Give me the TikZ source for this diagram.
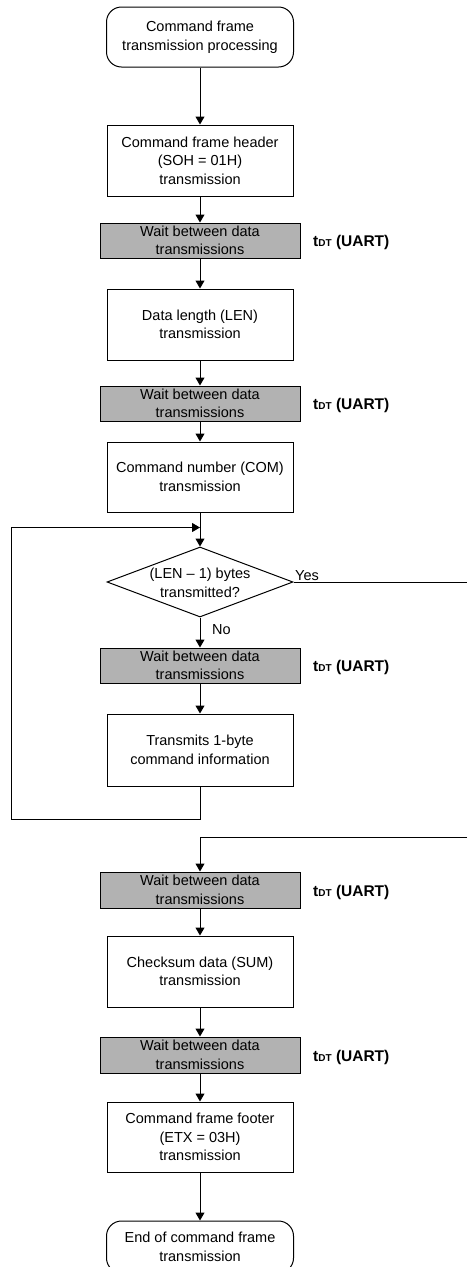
\documentclass[tikz,border=0pt]{standalone}
\usepackage{fontspec}
\setmainfont{Liberation Sans}
\usetikzlibrary{arrows.meta,shapes.geometric}
\definecolor{waitgray}{RGB}{178,178,178}
\tikzset{
  base/.style={draw, line width=1pt, inner sep=0pt, align=center,
    font=\fontsize{14.5}{18.5}\selectfont},
  proc/.style={base, minimum width=186pt, minimum height=71pt},
  term/.style={base, rounded corners=15pt, minimum width=187pt, minimum height=60pt},
  waitbox/.style={base, fill=waitgray, minimum width=200pt, minimum height=35pt},
  dec/.style={draw, line width=1pt, diamond, inner sep=0pt, minimum width=186pt, minimum height=70pt},
  txt/.style={inner sep=0pt, align=center, font=\fontsize{14.5}{18.5}\selectfont},
  tdt/.style={inner sep=0pt, anchor=west, font=\fontsize{15.5}{18.5}\selectfont\bfseries},
  conn/.style={line width=1pt, -{Triangle[width=9pt,length=8pt]}},
  line/.style={line width=1pt}
}
\newcommand{\tdtlabel}{t{\fontsize{10}{10}\selectfont DT} (UART)}
\begin{document}
\begin{tikzpicture}[x=1pt,y=-1pt]
\useasboundingbox (0,0) rectangle (467,1267);
\node[term] (start) at (200,37) {Command frame\\transmission processing};
\node[proc] (b1) at (200,160.5) {Command frame header\\(SOH = 01H)\\transmission};
\node[waitbox] (w1) at (200,240.5) {Wait between data\\transmissions};
\node[tdt] (t1) at (313,242) {\tdtlabel};
\node[proc] (b2) at (200,324.5) {Data length (LEN)\\transmission};
\node[waitbox] (w2) at (200,403.5) {Wait between data\\transmissions};
\node[tdt] (t2) at (313,405) {\tdtlabel};
\node[proc, minimum height=70pt] (b3) at (200,477) {Command number (COM)\\transmission};
\coordinate (merge) at (200,527.5);
\node[dec] (d) at (200,582) {};
\node[txt] (dtext) at (200,583) {(LEN -- 1) bytes\\transmitted?};
\node[txt, anchor=south west] (yes) at (295,581) {Yes};
\node[txt, anchor=west] (no) at (212,630) {No};
\node[waitbox] (w3) at (200,665.5) {Wait between data\\transmissions};
\node[tdt] (t3) at (313,667) {\tdtlabel};
\node[proc, minimum height=72pt] (b4) at (200,750) {Transmits 1-byte\\command information};
\coordinate (lb1) at (200,819);
\coordinate (lb2) at (11,819);
\coordinate (lb3) at (11,527.5);
\coordinate (y1) at (467,582);
\coordinate (y2) at (467,837);
\coordinate (y3) at (200,837);
\node[waitbox, minimum height=36pt] (w4) at (200,890) {Wait between data\\transmissions};
\node[tdt] (t4) at (313,892) {\tdtlabel};
\node[proc] (b5) at (200,971.5) {Checksum data (SUM)\\transmission};
\node[waitbox, minimum height=36pt] (w5) at (200,1055) {Wait between data\\transmissions};
\node[tdt] (t5) at (313,1057) {\tdtlabel};
\node[proc, minimum height=70pt] (b6) at (200,1137) {Command frame footer\\(ETX = 03H)\\transmission};
\node[term, minimum height=52pt] (end) at (200,1247) {End of command frame\\transmission};

\draw[conn] (start) -- (b1);
\draw[conn] (b1) -- (w1);
\draw[conn] (w1) -- (b2);
\draw[conn] (b2) -- (w2);
\draw[conn] (w2) -- (b3);
\draw[conn] (b3) -- (d);
\draw[conn] (d) -- (w3);
\draw[conn] (w3) -- (b4);
\draw[conn] (b4.south) -- (lb1) -- (lb2) -- (lb3) -- (merge);
\draw[line] (d.east) -- (y1);
\draw[conn] (y2) -- (y3) -- (w4);
\draw[conn] (w4) -- (b5);
\draw[conn] (b5) -- (w5);
\draw[conn] (w5) -- (b6);
\draw[conn] (b6) -- (end);
\end{tikzpicture}
\end{document}
